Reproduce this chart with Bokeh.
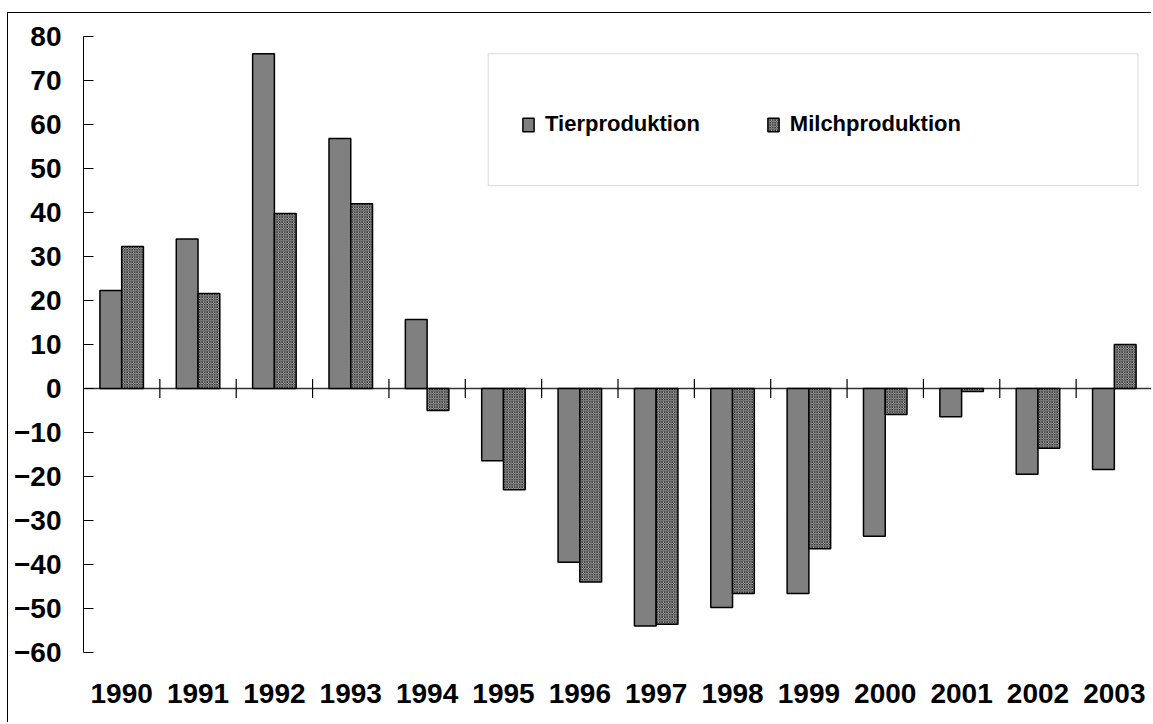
import math
from bokeh.plotting import figure
from bokeh.models import (Range1d, FixedTicker, LinearAxis, Span,
                          Legend, LegendItem, BoxAnnotation, ColumnDataSource)
from bokeh.embed import file_html
from bokeh.resources import INLINE

years = ["1990", "1991", "1992", "1993", "1994", "1995", "1996",
         "1997", "1998", "1999", "2000", "2001", "2002", "2003"]
tierproduktion = [22.3, 34.0, 76.1, 56.8, 15.7, -16.4, -39.5,
                  -54.0, -49.8, -46.6, -33.6, -6.4, -19.5, -18.4]
milchproduktion = [32.3, 21.6, 39.8, 42.0, -5.0, -23.0, -44.0,
                   -53.6, -46.6, -36.4, -5.9, -0.7, -13.6, 10.0]
y_ticks = list(range(-60, 90, 10))

FONT = "Liberation Sans"
BAR_W = 0.285
idx = list(range(len(years)))

p = figure(width=1144, height=710, output_backend="svg", toolbar_location=None,
           x_range=Range1d(-0.5, len(years) - 0.5), y_range=Range1d(-60, 80),
           min_border_left=75, min_border_top=23, min_border_bottom=71,
           min_border_right=0, x_axis_type=None, y_axis_type=None)
p.styles = {"border-left": "1px solid black", "border-top": "1px solid black",
            "margin-top": "12px", "margin-left": "7px"}
p.outline_line_color = None
p.background_fill_color = "white"

# y axis
yax = LinearAxis(ticker=FixedTicker(ticks=y_ticks))
yax.axis_line_color = "black"
yax.axis_line_width = 1
yax.major_tick_in = 10
yax.major_tick_out = 0
yax.minor_tick_line_color = None
yax.major_label_standoff = 22
yax.major_label_text_font = FONT
yax.major_label_text_font_style = "bold"
yax.major_label_text_font_size = "28px"
yax.major_label_text_color = "black"
p.add_layout(yax, "left")
p.ygrid.grid_line_color = "#7a7a7a"
p.ygrid.grid_line_width = 1
p.ygrid.ticker = FixedTicker(ticks=y_ticks)

# bottom labels axis
xax = LinearAxis(ticker=FixedTicker(ticks=idx))
xax.major_label_overrides = {i: y for i, y in zip(idx, years)}
xax.axis_line_color = None
xax.major_tick_line_color = None
xax.minor_tick_line_color = None
xax.major_tick_in = 0
xax.major_tick_out = 0
xax.major_label_standoff = 31
xax.major_label_text_font = FONT
xax.major_label_text_font_style = "bold"
xax.major_label_text_font_size = "28px"
xax.major_label_text_color = "black"
p.add_layout(xax, "below")

# zero line and crossing ticks between categories
p.add_layout(Span(location=0, dimension="width", line_color="#333333",
                  line_width=1.5, level="underlay"))
sep = ColumnDataSource(dict(x=[i + 0.5 for i in idx[:-1]],
                            y=[0] * (len(idx) - 1)))
p.scatter(x="x", y="y", source=sep, marker="dash", size=19,
          angle=math.pi / 2, line_color="black", line_width=1.2)

src = ColumnDataSource(dict(
    x_t=[i - BAR_W / 2 for i in idx], x_m=[i + BAR_W / 2 for i in idx],
    t=tierproduktion, m=milchproduktion))

r_t = p.vbar(x="x_t", top="t", bottom=0, width=BAR_W, source=src,
             fill_color="#808080", line_color="black", line_width=1.5)
r_m = p.vbar(x="x_m", top="m", bottom=0, width=BAR_W, source=src,
             fill_color="#d4d4d4", line_color="black", line_width=1.5,
             hatch_pattern="diagonal_cross", hatch_scale=2.5,
             hatch_color="#333333", hatch_weight=1)

# legend frame
box = BoxAnnotation(left=4.80, right=13.31, top=76.1, bottom=46.1,
                    fill_color="white", fill_alpha=1.0,
                    line_color="#808080", line_width=1)
p.add_layout(box)

legend = Legend(items=[LegendItem(label="Tierproduktion", renderers=[r_t]),
                       LegendItem(label="Milchproduktion", renderers=[r_m])],
                orientation="horizontal", location=(438, 515),
                padding=0, spacing=66, margin=0,
                glyph_width=14, glyph_height=17, label_standoff=10,
                label_text_font=FONT, label_text_font_style="bold",
                label_text_font_size="22px", label_text_color="black",
                border_line_color=None, background_fill_alpha=0)
p.add_layout(legend)

open("out.html", "w").write(file_html(p, INLINE))
